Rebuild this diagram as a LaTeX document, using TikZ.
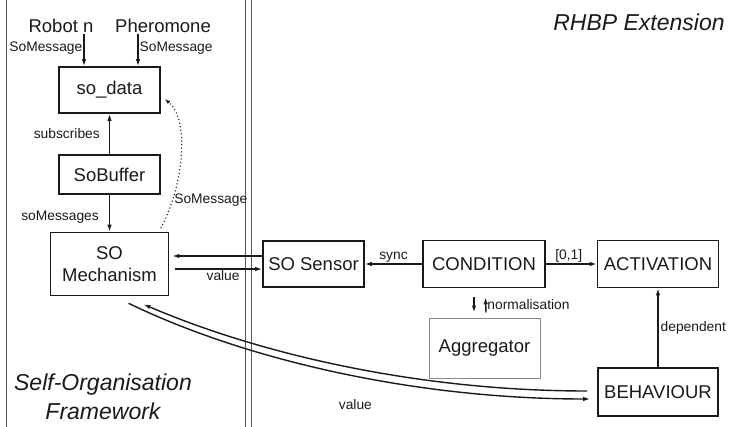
\documentclass[tikz,border=0pt]{standalone}
\usepackage{fontspec}
\setmainfont{Liberation Sans}
\usetikzlibrary{arrows.meta,positioning}
\definecolor{soink}{HTML}{1A1A1A}
\definecolor{sogrey}{HTML}{8A8A8A}
\definecolor{sorule}{HTML}{5A5A5A}
\tikzset{
  comp/.style={draw=soink,line width=1.6pt,minimum height=46pt,inner sep=2pt,
              font=\fontsize{18.5}{22}\selectfont,text=soink,align=center},
  aggbox/.style={comp,draw=sogrey,line width=1pt},
  src/.style={font=\fontsize{18.5}{22}\selectfont,text=soink,inner sep=1pt},
  ttl/.style={font=\fontsize{23}{29}\selectfont\itshape,text=soink,align=center},
  flowe/.style={-{Latex[length=7pt,width=4.5pt]},line width=1.4pt,draw=soink},
  dote/.style={-{Latex[length=5.5pt,width=4pt]},line width=1.5pt,
              dash pattern=on 0pt off 3.6pt,line cap=round,draw=soink},
  elab/.style={font=\fontsize{13.8}{16}\selectfont,text=soink,inner sep=1pt},
  divider/.style={line width=0.9pt,draw=sorule},
}
\begin{document}
\begin{tikzpicture}[x=1pt,y=-1pt]
  \useasboundingbox (0,0) rectangle (738,427);
  % framework borders
  \draw[divider] (6,0) -- (6,427);
  \draw[divider] (245,0) -- (245,427);
  \draw[divider] (251,0) -- (251,427);
  \node[ttl] (rhbp) at (639,22) {RHBP Extension};
  \node[ttl] (sof) at (103,397) {Self-Organisation\\Framework};
  % components
  \node[src] (robot) at (61,26) {Robot n};
  \node[src] (phero) at (163,26) {Pheromone};
  \node[comp,minimum width=101pt] (sodata) at (109.5,90) {so\_data};
  \node[comp,minimum width=101pt,minimum height=39pt] (sobuf) at (109.5,174.5) {SoBuffer};
  \node[comp,minimum width=118pt,minimum height=63pt] (mech) at (109.5,264) {SO\\Mechanism};
  \node[comp,minimum width=101pt] (sensor) at (313.5,264) {SO Sensor};
  \node[comp,minimum width=122pt,minimum height=47pt] (cond) at (484,264) {CONDITION};
  \node[comp,minimum width=121pt,minimum height=47pt] (act) at (658,264) {ACTIVATION};
  \node[aggbox,minimum width=111pt,minimum height=60pt] (agg) at (484.5,348) {Aggregator};
  \node[comp,minimum width=120pt,minimum height=48pt] (beh) at (658,392) {BEHAVIOUR};
  % message flow
  \draw[flowe] ([xshift=23pt]robot.south) -- node[elab,left,pos=0.45]{SoMessage} ([xshift=-25.5pt]sodata.north);
  \draw[flowe] ([xshift=-25pt]phero.south) -- node[elab,right,pos=0.45]{SoMessage} ([xshift=28.5pt]sodata.north);
  \draw[flowe] (sobuf) -- node[elab,left,xshift=-8pt]{subscribes} (sodata);
  \draw[flowe] (sobuf) -- node[elab,left,xshift=-9pt,pos=0.6]{soMessages} (mech);
  \draw[dote] ([xshift=51.5pt,yshift=4pt]mech.north) .. controls (181,192) and (192,122) ..
    node[elab,pos=0.22,anchor=west]{SoMessage} ([xshift=4pt,yshift=-9pt]sodata.east);
  \draw[flowe] ([yshift=8pt]sensor.west) -- ([xshift=3pt,yshift=8pt]mech.east);
  \draw[flowe] ([xshift=6pt,yshift=-5pt]mech.east) -- node[elab,below,pos=0.55]{value} ([yshift=-5pt]sensor.west);
  \draw[flowe] (cond) -- node[elab,above,inner sep=0.5pt]{sync} (sensor);
  \draw[flowe] (cond) -- node[elab,above,pos=0.45]{[0,1]} (act);
  \draw[flowe] ([xshift=-10pt,yshift=-9pt]cond.south) -- ([xshift=-10.5pt,yshift=5pt]agg.north);
  \draw[flowe] ([xshift=1.5pt,yshift=5pt]agg.north) -- node[elab,right]{normalisation} ([xshift=1.5pt,yshift=-9pt]cond.south);
  \draw[flowe] (beh) -- node[elab,right,inner sep=2pt]{dependent} (act);
  % value exchange with the behaviour
  \draw[flowe] ([xshift=19pt,yshift=-7pt]mech.south) .. controls (250,362) and (420,399) ..
    node[elab,pos=0.53,yshift=-28pt]{value} ([xshift=-7pt,yshift=-7pt]beh.west);
  \draw[flowe] ([xshift=-10pt,yshift=1pt]beh.west) .. controls (420,391) and (262,355) ..
    ([xshift=34pt,yshift=-8pt]mech.south);
\end{tikzpicture}
\end{document}
